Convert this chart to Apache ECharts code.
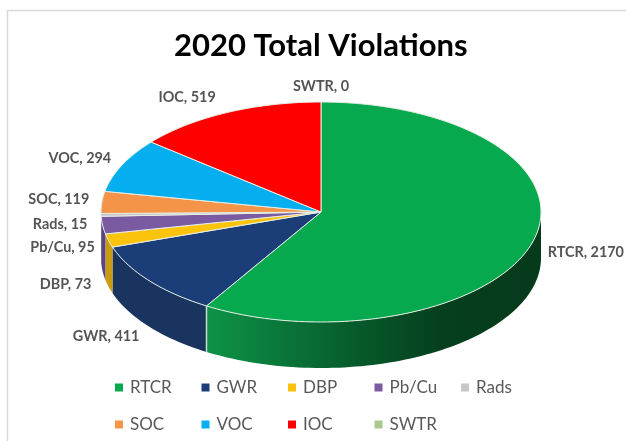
<!DOCTYPE html>
<html>
<head>
<meta charset="utf-8">
<script src="https://cdn.jsdelivr.net/npm/echarts@6/dist/echarts.min.js"></script>
<style>html,body{margin:0;padding:0;background:#fff}#chart{width:626px;height:441px}</style>
</head>
<body>
<div id="chart"></div>
<script>
// Violation categories, clockwise from twelve o'clock
const categories = ['RTCR', 'GWR', 'DBP', 'Pb/Cu', 'Rads', 'SOC', 'VOC', 'IOC', 'SWTR'];
const violations = [2170, 411, 73, 95, 15, 119, 294, 519, 0];
const topColors = ['#07A94F', '#1B3E78', '#FCC30C', '#7A5AA0', '#C9C6C6', '#F39448', '#05AEEF', '#FE0000', '#A9C88E'];
const wallColors = ['#0A6A33', '#19345F', '#C89B10', '#5B4480', '#9A9A9A', '#B86E32', '#0480B0', '#B00000', '#7F9A68'];
// Label nudges from the rim point of each slice's mid-angle
const labelNudgeX = [53, -43, -43, -40, -41, -43, -42, -40, 0];
const labelNudgeY = [11, 56, 44, 22, 9, -3, -7, -15, -16];

const total = violations.reduce((a, b) => a + b, 0);
const startAngles = violations.map((_, i) =>
  violations.slice(0, i).reduce((a, b) => a + b, 0) / total * 360);

// Tilted-disc geometry
const CX = 321, CY = 212, RX = 220, RY = 110, DEPTH = 46;
const rim = (deg, drop) => {
  const t = deg * Math.PI / 180;
  return [CX + RX * Math.sin(t), CY - RY * Math.cos(t) + (drop || 0)];
};
const arcPoints = (from, to, drop) => {
  const steps = Math.max(2, Math.ceil((to - from) / 1.5));
  const pts = [];
  for (let k = 0; k <= steps; k++) pts.push(rim(from + (to - from) * k / steps, drop));
  return pts;
};

function renderSlice(index) {
  return function (params, api) {
    const value = api.value(0);
    const from = startAngles[index];
    const to = from + value / total * 360;
    const children = [];
    if (value > 0) {
      // Front wall: only the part of the rim facing the viewer
      const a = Math.max(from, 90), b = Math.min(to, 270);
      if (b > a) {
        const upper = arcPoints(a, b, 0);
        const lower = arcPoints(a, b, DEPTH).reverse();
        // The large slice's wall falls into shadow towards the right
        const fill = index === 0
          ? { type: 'linear', x: 0, y: 0, x2: 1, y2: 0, colorStops: [
              { offset: 0, color: '#0D9347' }, { offset: 0.2, color: '#0A7A3B' },
              { offset: 0.45, color: '#075A2B' }, { offset: 0.7, color: '#053F1E' }, { offset: 1, color: '#053A1B' }] }
          : wallColors[index];
        children.push({
          type: 'polygon', z2: 1,
          shape: { points: upper.concat(lower) },
          style: { fill: fill }
        });
        if (index === 0) {
          // Pale seam where this wall meets the next slice
          children.push({
            type: 'line', z2: 2,
            shape: { x1: rim(b)[0], y1: rim(b)[1], x2: rim(b, DEPTH)[0], y2: rim(b, DEPTH)[1] },
            style: { stroke: '#C9DCCF', lineWidth: 1.5 }
          });
        }
      }
      // Top face
      children.push({
        type: 'polygon', z2: 3,
        shape: { points: [[CX, CY]].concat(arcPoints(from, to, 0)) },
        style: { fill: topColors[index], stroke: '#E6EEE6', lineWidth: 1 }
      });
    }
    // Data label placed off the rim at the slice's mid-angle
    const mid = rim((from + to) / 2);
    children.push({
      type: 'text', z2: 4,
      x: mid[0] + labelNudgeX[index], y: mid[1] + labelNudgeY[index],
      style: {
        text: categories[index] + ', ' + value,
        fill: '#545454', font: 'bold 14.4px Lato',
        align: 'center', verticalAlign: 'middle'
      }
    });
    return { type: 'group', children: children };
  };
}

const chart = echarts.init(document.getElementById('chart'), null, { renderer: 'canvas' });
chart.setOption({
  animation: false,
  backgroundColor: '#fff',
  title: {
    text: '2020 Total Violations',
    left: 169, top: 25,
    textStyle: { fontFamily: 'Lato', fontWeight: 'bold', fontSize: 31, color: '#000' }
  },
  // One legend per entry keeps the entries on a five-column grid
  legend: categories.map((name, i) => ({
    data: [name],
    left: 110 + 86.5 * (i % 5),
    top: 374 + 37 * Math.floor(i / 5),
    icon: 'rect', itemWidth: 8, itemHeight: 8,
    textStyle: { color: '#595959', fontFamily: 'Lato', fontSize: 17, padding: [0, 0, 0, 2] }
  })),
  graphic: [{
    type: 'polyline', silent: true, z: -1,
    shape: { points: [[7.5, 441], [7.5, 10.5], [626, 10.5]] },
    style: { stroke: '#DADADA', lineWidth: 1.5, fill: 'none' }
  }],
  series: categories.map((name, i) => ({
    type: 'custom',
    name: name,
    coordinateSystem: 'none',
    silent: true,
    itemStyle: { color: topColors[i] },
    data: [[violations[i]]],
    renderItem: renderSlice(i)
  }))
});
</script>
</body>
</html>
